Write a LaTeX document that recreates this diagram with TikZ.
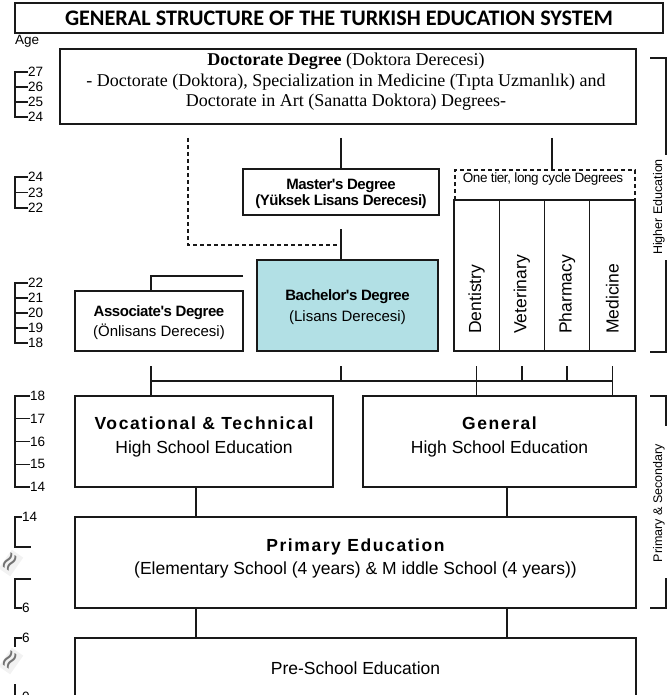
\documentclass[tikz,border=0pt]{standalone}
\usepackage{fontspec}
\setmainfont{Liberation Sans}
\newfontfamily\titlefont{Carlito}
\newfontfamily\docfont{Liberation Serif}
\newfontfamily\symfont{DejaVu Sans}
\newfontfamily\tightfont[LetterSpace=-3]{Liberation Sans}
\newfontfamily\widefont[LetterSpace=9]{Liberation Sans}
\definecolor{bachfill}{RGB}{178,224,229}
\definecolor{ink}{RGB}{25,25,25}
\begin{document}
\begin{tikzpicture}[x=1pt,y=-1pt,
  box/.style={draw=ink, line width=1.3pt, rectangle, inner sep=0pt, outer sep=0pt},
  conn/.style={draw=ink, line width=1.3pt},
  thin/.style={draw=ink, line width=1.1pt},
  dashconn/.style={draw=ink, line width=1.2pt, dash pattern=on 4pt off 3pt},
  txt/.style={inner sep=0pt, align=center},
  agelbl/.style={anchor=west, inner sep=0pt, font=\fontsize{13.5}{13.5}\selectfont},
  colt/.style={rotate=90, anchor=west, inner sep=0pt, font=\fontsize{17.5}{17.5}\selectfont},
  sidet/.style={rotate=90, inner sep=0pt, font=\fontsize{12.5}{12.5}\selectfont},
  approxs/.style={inner sep=0.5pt, fill=gray!10, text=black!55, rotate=55, font=\symfont\fontsize{26}{26}\selectfont}
]
\useasboundingbox (0,0) rectangle (671,695);

% Title
\node[box, minimum width=648pt, minimum height=30pt] (title) at (339,18)
  {\titlefont\bfseries\fontsize{22.2}{22}\selectfont GENERAL STRUCTURE OF THE TURKISH EDUCATION SYSTEM};
\node[agelbl] (age) at (15,41) {Age};

% Doctorate
\node[box, minimum width=576pt, minimum height=75pt] (doc) at (348,86.5) {};
\node[txt, font=\docfont\fontsize{18}{20.5}\selectfont] (doctxt) at (346,82)
  {\textbf{Doctorate Degree} (Doktora Derecesi)\\
   - Doctorate (Doktora), Specialization in Medicine (Tıpta Uzmanlık) and\\
   Doctorate in Art (Sanatta Doktora) Degrees-};

% Master
\node[box, minimum width=196pt, minimum height=46pt] (master) at (341,192) {};
\node[txt, font=\tightfont\bfseries\fontsize{15}{16.5}\selectfont] (mastertxt) at (341,194)
  {Master's Degree\\(Yüksek Lisans Derecesi)};

% One tier dashed box
\node[box, draw=none, minimum width=180pt, minimum height=30pt] (onetier) at (545,185) {};
\draw[dashconn] (onetier.south west) -- (onetier.north west) -- (onetier.north east) -- (onetier.south east);
\node[txt, font=\tightfont\fontsize{13.5}{13.5}\selectfont] (onetiertxt) at (543,179) {One tier, long cycle Degrees};

% Columns
\node[box, minimum width=45.25pt, minimum height=151pt] (dent) at (476.6,275.5) {};
\node[box, minimum width=45.25pt, minimum height=151pt] (vet)  at (521.9,275.5) {};
\node[box, minimum width=45.25pt, minimum height=151pt] (pharm) at (567.1,275.5) {};
\node[box, minimum width=45.25pt, minimum height=151pt] (med) at (612.4,275.5) {};
\node[colt] (dentt) at (476.6,334) {Dentistry};
\node[colt] (vett) at (521.9,334) {Veterinary};
\node[colt] (pharmt) at (567.1,334) {Pharmacy};
\node[colt] (medt) at (612.4,334) {Medicine};

% Bachelor
\node[box, fill=bachfill, minimum width=181pt, minimum height=91pt] (bach) at (347.5,305.5) {};
\node[txt, font=\fontsize{15}{21}\selectfont] (bachtxt) at (347.5,307)
  {{\tightfont\bfseries Bachelor's Degree}\\(Lisans Derecesi)};

% Associate
\node[box, minimum width=168pt, minimum height=60pt] (assoc) at (159,321) {};
\node[txt, font=\fontsize{15}{20}\selectfont] (assoctxt) at (159,323)
  {{\tightfont\bfseries Associate's Degree}\\(Önlisans Derecesi)};

% Upper connectors
\coordinate (d1) at (341,138);
\coordinate (d2) at (552,138);
\coordinate (d3) at (188,138);
\coordinate (m1) at (341,229);
\coordinate (m2) at (341,245);
\coordinate (a1) at (243,276);
\draw[conn] (d1) -- (master.north);
\draw[conn] (d2) -- (d2 |- onetier.north);
\draw[dashconn] (d3) |- (m2);
\draw[conn] (m1) -- (m1 |- bach.north);
\draw[conn] (a1) -| ([xshift=-8pt]assoc.north);

% High schools
\node[box, minimum width=258pt, minimum height=91pt] (voc) at (204,441.5) {};
\node[box, minimum width=273pt, minimum height=91pt] (gen) at (499.5,441.5) {};
\node[txt, font=\fontsize{17.5}{24}\selectfont] (voctxt) at (204,436.5)
  {{\widefont\bfseries Vocational \& Technical}\\High School Education};
\node[txt, font=\fontsize{17.5}{24}\selectfont] (gentxt) at (499.5,436.5)
  {{\widefont\bfseries General}\\High School Education};

% Joining connectors
\coordinate (c1) at (151,366);
\coordinate (c2) at (341,366);
\coordinate (c3) at (476.6,366);
\coordinate (c4) at (521.9,366);
\coordinate (c5) at (567.1,366);
\coordinate (c6) at (612.4,366);
\coordinate (h1) at (151,381);
\coordinate (h6) at (612.4,381);
\draw[conn] (h1) -- (h6);
\foreach \c in {c1,c2,c3,c4,c5,c6} { \draw[conn] (\c) -- (\c |- h1); }
\draw[conn] (h1) -- (h1 |- voc.north);
\draw[conn] (c3 |- h1) -- (c3 |- gen.north);
\draw[conn] (h6) -- (h6 |- gen.north);

% Primary
\node[box, minimum width=561pt, minimum height=91pt] (prim) at (355.5,562.5) {};
\node[txt, font=\fontsize{17.5}{23.4}\selectfont] (primtxt) at (355.5,558.5)
  {{\widefont\bfseries Primary Education}\\(Elementary School (4 years) \& M iddle School (4 years))};

% Pre-school
\node[box, minimum width=561pt, minimum height=82pt] (pre) at (355.5,679) {};
\node[txt, font=\fontsize{17.5}{17.5}\selectfont] (pretxt) at (355.5,668.5) {Pre-School Education};

\coordinate (p1) at (196,0);
\coordinate (p2) at (507,0);
\draw[conn] (p1 |- voc.south) -- (p1 |- prim.north);
\draw[conn] (p2 |- gen.south) -- (p2 |- prim.north);
\draw[conn] (p1 |- prim.south) -- (p1 |- pre.north);
\draw[conn] (p2 |- prim.south) -- (p2 |- pre.north);

% Side brackets
\coordinate (he1) at (650,58);
\coordinate (he2) at (666,155);
\coordinate (he3) at (666,260);
\coordinate (he4) at (650,352);
\draw[conn] (he1) -| (he2);
\draw[conn] (he3) |- (he4);
\node[sidet] (hetxt) at (659,207) {Higher Education};
\coordinate (ps1) at (650,396);
\coordinate (ps2) at (666,426);
\coordinate (ps3) at (666,578);
\coordinate (ps4) at (650,608);
\draw[conn] (ps1) -| (ps2);
\draw[conn] (ps3) |- (ps4);
\node[sidet] (pstxt) at (659,503) {Primary \& Secondary};

% Age scales
\draw[thin] (28,72) -| (15,117) -- (28,117);
\foreach \y in {87,102} { \draw[thin] (15,\y) -- (28,\y); }
\foreach \y/\t [count=\k] in {72/27,87/26,102/25,117/24} { \node[agelbl] (ga\k) at (28,\y) {\t}; }

\draw[thin] (28,177) -| (15,208) -- (28,208);
\draw[thin] (15,192.5) -- (28,192.5);
\foreach \y/\t [count=\k] in {177/24,192.5/23,208/22} { \node[agelbl] (gb\k) at (28,\y) {\t}; }

\draw[thin] (28,283) -| (15,343) -- (28,343);
\foreach \y in {298,313,328} { \draw[thin] (15,\y) -- (28,\y); }
\foreach \y/\t [count=\k] in {283/22,298/21,313/20,328/19,343/18} { \node[agelbl] (gc\k) at (28,\y) {\t}; }

\draw[thin] (30,396) -| (15,487) -- (30,487);
\foreach \y in {418.75,441.5,464.25} { \draw[thin] (15,\y) -- (30,\y); }
\foreach \y/\t [count=\k] in {396/18,418.75/17,441.5/16,464.25/15,487/14} { \node[agelbl] (gd\k) at (30,\y) {\t}; }

\draw[thin] (22,517) -| (15,547) -- (31,547);
\draw[thin] (31,579) -| (15,608) -- (22,608);
\node[agelbl] (ge1) at (22,517) {14};
\node[agelbl] (ge2) at (22,608) {6};
\node[approxs] (ap1) at (11,563) {≈};

\draw[thin] (22,638) -| (15,647);
\draw[thin] (15,684) -- (15,697) -- (22,697);
\node[agelbl] (gf1) at (22,638) {6};
\node[agelbl] (gf2) at (22,697) {0};
\node[approxs] (ap2) at (11,661) {≈};
\end{tikzpicture}
\end{document}
